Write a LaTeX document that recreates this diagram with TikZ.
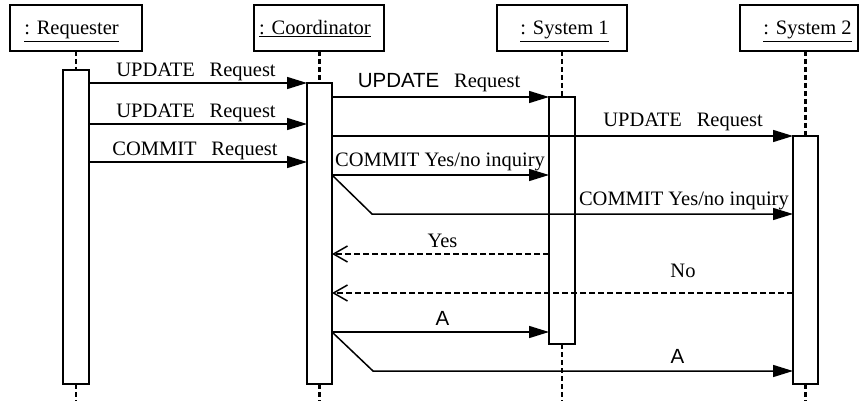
\documentclass[tikz,border=0pt]{standalone}
\usepackage{fontspec}
\setmainfont{Liberation Serif}
\newfontfamily\arialf{Liberation Sans}
\usetikzlibrary{arrows.meta}
\begin{document}
\begin{tikzpicture}[x=1pt,y=-1pt,
  headbox/.style={draw,line width=1.5pt,minimum width=#1,minimum height=46pt,inner sep=0pt,outer sep=0pt},
  actbox/.style={draw,fill=white,line width=1.5pt,inner sep=0pt,outer sep=0pt},
  txt/.style={font=\fontsize{20.5}{24}\selectfont,inner sep=0pt,anchor=base},
  life/.style={line width=2.4pt,dash pattern=on 5pt off 3pt},
  msg/.style={line width=1.5pt,-{Triangle[length=20pt,width=12pt]}},
  reply/.style={line width=1.8pt,dash pattern=on 6pt off 3pt,-{Straight Barb[length=14pt,width=16pt,line width=1.5pt]}}
]
\useasboundingbox (0,0) rectangle (859,401);
\coordinate (bot) at (0,401);
% header boxes
\node[headbox=132pt] (hreq) at (76,28) {};
\node[headbox=130pt] (hcoo) at (319,28) {};
\node[headbox=130pt] (hs1) at (562,28) {};
\node[headbox=118pt] (hs2) at (799,28) {};
\node[txt] (treq) at (71.5,35) {\underline{: Requester}};
\node[txt] (tcoo) at (315,35) {\underline{: Coordinator}};
\node[txt] (ts1) at (564.5,35) {\underline{: System 1}};
\node[txt] (ts2) at (807.5,35) {\underline{: System 2}};
% activation boxes
\node[actbox,minimum width=26pt,minimum height=314pt] (areq) at (76,227) {};
\node[actbox,minimum width=25pt,minimum height=301pt] (acoo) at (319.5,233.5) {};
\node[actbox,minimum width=26pt,minimum height=247pt] (as1) at (562,220.5) {};
\node[actbox,minimum width=25pt,minimum height=248pt] (as2) at (805.5,260) {};
% lifelines
\draw[life] (areq.north |- hreq.south) -- (areq.north);
\draw[life] (acoo.north |- hcoo.south) -- (acoo.north);
\draw[life] (as1.north |- hs1.south) -- (as1.north);
\draw[life] (as2.north |- hs2.south) -- (as2.north);
\draw[life] (areq.south) -- (areq.south |- bot);
\draw[life] (acoo.south) -- (acoo.south |- bot);
\draw[life] (as1.south) -- (as1.south |- bot);
\draw[life] (as2.south) -- (as2.south |- bot);
% requester -> coordinator
\draw[msg] (areq.east |- 0,83) -- (acoo.west |- 0,83);
\node[txt] (l1) at (196,77) {UPDATE\hspace{0.72em}Request};
\draw[msg] (areq.east |- 0,124) -- (acoo.west |- 0,124);
\node[txt] (l2) at (196,118) {UPDATE\hspace{0.72em}Request};
\draw[msg] (areq.east |- 0,162) -- (acoo.west |- 0,162);
\node[txt] (l3) at (195,155) {COMMIT\hspace{0.72em}Request};
% coordinator -> systems
\draw[msg] (acoo.east |- 0,97) -- (as1.west |- 0,97);
\node[txt] (l4) at (439,88) {{\arialf UPDATE}\hspace{0.72em}Request};
\draw[msg] (acoo.east |- 0,136) -- (as2.west |- 0,136);
\node[txt,anchor=base east] (l5) at (763,127) {UPDATE\hspace{0.72em}Request};
\draw[msg] (acoo.east |- 0,175) -- (as1.west |- 0,175);
\node[txt,anchor=base west] (l6) at (335,166) {COMMIT Yes/no inquiry};
\coordinate (b1) at (372,214);
\draw[msg] (acoo.east |- 0,175) -- (b1) -- (as2.west |- b1);
\node[txt,anchor=base east] (l7) at (789,205) {COMMIT Yes/no inquiry};
% replies
\draw[reply] (as1.west |- 0,254) -- (acoo.east |- 0,254);
\node[txt] (l8) at (442.5,247) {Yes};
\draw[reply] (as2.west |- 0,293) -- (acoo.east |- 0,293);
\node[txt] (l9) at (683,277) {No};
% A messages
\draw[msg] (acoo.east |- 0,332) -- (as1.west |- 0,332);
\node[txt] (l10) at (442.5,325) {\arialf A};
\coordinate (b2) at (373,371);
\draw[msg] (acoo.east |- 0,332) -- (b2) -- (as2.west |- b2);
\node[txt] (l11) at (677.5,363) {\arialf A};
\end{tikzpicture}
\end{document}
